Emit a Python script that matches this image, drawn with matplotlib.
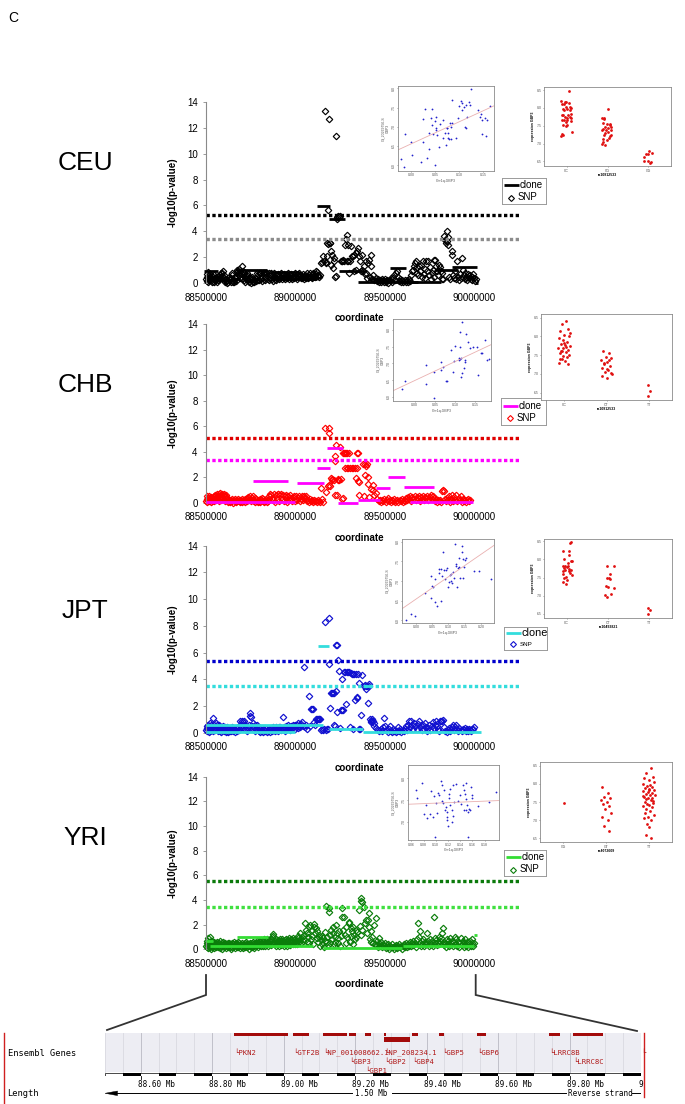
import matplotlib
matplotlib.use("Agg")
import matplotlib.pyplot as plt
from matplotlib.patches import Rectangle, Polygon
import numpy as np

plt.rcParams['font.family'] = ['Liberation Sans', 'DejaVu Sans']

# ------------------------------------------------------------------ data
x_ticks = [88500000, 89000000, 89500000, 90000000]
x_tick_labels = ['88500000', '89000000', '89500000', '90000000']
y_ticks = [0, 2, 4, 6, 8, 10, 12, 14]
populations = ['CEU', 'CHB', 'JPT', 'YRI']

# SNPs: (position kb, -log10 p)
ceu_snps = [
 (88501,.3),(88503,.7),(88505,.15),(88507,.5),(88509,.85),(88511,.35),(88513,.05),(88515,.6),(88518,.25),(88520,.45),
 (88523,.7),(88525,.2),(88528,.4),(88531,.05),(88534,.55),(88537,.3),(88540,.15),(88543,.6),(88546,.1),(88549,.35),
 (88552,.25),(88556,.5),(88559,.1),(88562,.3),(88566,.55),(88569,.2),(88573,.4),(88576,.65),(88579,.3),(88583,.75),
 (88586,.45),(88589,.8),(88592,.55),(88596,.9),(88599,.6),(88602,.35),(88606,.2),(88609,.05),(88612,.15),(88616,0),
 (88619,.2),(88623,.1),(88626,.3),(88630,.5),(88634,.2),(88637,.4),(88641,.1),(88645,.6),(88648,.8),(88652,.05),
 (88655,.25),(88659,.1),(88662,.4),(88666,.15),(88669,.55),(88672,.85),(88675,1.0),(88678,.7),(88681,.9),(88684,1.1),
 (88687,.6),(88690,.4),(88693,.8),(88696,.5),(88699,.3),(88702,1.3),(88705,.9),(88708,.6),(88711,.2),(88714,.75),
 (88717,.45),(88720,.1),(88723,.55),(88726,.3),(88729,.8),(88732,.6),(88735,.2),(88738,.4),(88741,.1),(88744,.3),
 (88747,.5),(88750,0),(88753,.2),(88756,.45),(88759,.3),(88762,.1),(88766,.25),(88770,.05),(88774,.35),(88778,.15),
 (88782,.3),(88786,.8),(88790,.25),(88794,.8),(88798,.2),(88802,.8),(88806,.3),(88810,.8),(88814,.15),(88818,.8),
 (88822,.3),(88826,.8),(88830,.25),(88834,.8),(88838,.5),(88842,.8),(88846,.3),(88850,.8),(88854,.2),(88858,.35),
 (88862,.8),(88866,.6),(88870,.3),(88874,.15),(88878,.5),(88882,.8),(88886,.3),(88890,.6),(88894,.2),(88898,.4),
 (88902,.7),(88906,.3),(88910,.55),(88914,.35),(88918,.8),(88922,.5),(88926,.3),(88930,.6),(88934,.35),(88938,.7),
 (88942,.3),(88946,.5),(88950,.6),(88954,.4),(88958,.8),(88962,.3),(88966,.5),(88970,.65),(88974,.4),(88978,.7),
 (88982,.3),(88986,.5),(88990,.6),(88994,.35),(88998,.8),(89002,.45),(89006,.6),(89010,.3),(89014,.7),(89018,.5),
 (89022,.8),(89026,.6),(89030,.35),(89034,.55),(89038,.4),(89042,.7),(89046,.3),(89050,.5),(89054,.65),(89058,.4),
 (89062,.8),(89066,.5),(89070,.35),(89074,.6),(89078,.45),(89082,.75),(89086,.5),(89090,.6),(89094,.4),(89098,.8),
 (89102,.55),(89106,.65),(89110,.5),(89114,.95),(89117,.7),(89120,.85),(89124,.55),(89127,.6),(89130,.5),
 (89138,.6),(89142,1.55),(89148,1.65),(89155,2.06),(89160,1.7),(89166,13.27),(89169,1.65),(89173,1.55),(89176,2.06),
 (89179,3.1),(89182,3.05),(89184,5.67),(89188,12.68),(89191,3.1),(89195,3.1),(89198,1.4),(89201,2.45),(89205,2.2),
 (89208,1.15),(89213,1.67),(89218,1.9),(89222,.5),(89226,11.39),(89229,.55),(89231,4.95),(89235,5.1),(89239,5.15),
 (89244,5.1),(89249,5.15),(89254,1.67),(89258,1.7),(89263,1.67),(89268,1.75),(89273,1.67),(89278,2.96),(89282,3.4),
 (89286,3.74),(89289,1.7),(89292,2.96),(89296,1.67),(89301,.77),(89306,1.7),(89311,2.9),(89316,2.1),(89321,2.06),
 (89326,.9),(89330,2.14),(89336,2.3),(89341,1.0),(89346,2.5),(89350,2.7),(89355,2.06),(89360,1.67),(89365,.9),
 (89370,2.2),(89374,1.0),(89378,.9),(89383,1.3),(89388,.7),(89392,1.67),(89397,.77),(89402,.4),(89406,1.55),
 (89411,1.8),(89415,.5),(89420,2.2),(89425,1.29),(89430,.3),(89436,.6),(89442,.2),
 (89448,.4),(89454,.15),(89460,.3),(89466,.05),(89472,.25),(89478,.1),(89484,.3),(89490,.2),(89496,.05),(89502,.3),
 (89508,.1),(89514,.25),(89520,0),(89526,.2),(89532,.4),(89538,.1),(89544,.35),(89550,.6),(89556,.2),(89562,.75),
 (89568,.9),(89574,.45),(89580,.15),(89586,.3),(89592,.05),(89598,.2),(89604,.1),(89610,.25),(89616,.05),(89622,.2),
 (89628,.1),(89634,.3),(89640,.15),(89646,.6),(89652,.9),(89657,1.03),(89662,1.29),(89667,1.55),(89672,1.67),(89677,.8),
 (89682,1.2),(89687,.6),(89692,1.3),(89697,.9),(89702,1.4),(89707,.5),(89712,1.67),(89717,.7),(89722,1.1),(89727,.4),
 (89732,1.67),(89737,.9),(89742,1.67),(89747,.6),(89752,1.2),(89757,.3),(89762,.8),(89767,1.0),(89772,.5),(89777,1.75),
 (89782,1.75),(89787,1.3),(89792,.9),(89797,.6),(89802,1.4),(89807,1.2),(89812,.9),(89817,.3),(89822,.8),(89826,.3),
 (89829,3.6),(89835,3.35),(89841,3.1),(89845,3.25),(89848,4.0),(89851,3.55),(89855,2.96),(89860,.5),(89866,.3),
 (89873,2.45),(89876,2.2),(89880,.6),(89886,.4),(89892,.9),(89898,.3),(89904,1.67),(89910,.5),(89916,.2),(89922,.7),
 (89928,.4),(89933,1.93),(89937,1.0),(89942,.6),(89946,.3),(89950,.8),(89955,.5),(89960,.2),(89965,.7),(89970,.4),
 (89975,.6),(89980,.3),(89985,.5),(89990,.2),(89995,.7),(90000,.4),(90005,.15),(90010,.3)]

chb_snps = [
 (88501,.15),(88503,.5),(88505,.3),(88507,.05),(88510,.4),(88512,.2),(88515,.55),(88518,.1),(88520,.35),(88523,.2),
 (88526,.45),(88529,.05),(88532,.3),(88535,.15),(88538,.4),(88541,.25),(88544,.5),(88547,.1),(88550,.35),(88553,.6),
 (88556,.2),(88559,.45),(88562,.7),(88565,.3),(88568,.55),(88571,.15),(88574,.65),(88577,.4),(88580,.75),(88583,.5),
 (88586,.25),(88589,.7),(88592,.45),(88595,.6),(88598,.3),(88601,.65),(88604,.1),(88607,.5),(88610,.35),(88613,.6),
 (88616,.2),(88619,.4),(88622,.05),(88625,.3),(88628,.15),(88632,.25),(88636,.05),(88640,.2),(88644,.1),(88648,.3),
 (88652,0),(88656,.2),(88660,.1),(88664,.3),(88668,.05),(88672,.25),(88676,.1),(88680,.3),(88684,.15),(88688,.05),
 (88692,.25),(88696,.1),(88700,.3),(88704,.05),(88708,.2),(88712,.1),(88716,.3),(88720,.05),(88724,.2),(88728,.35),
 (88732,.1),(88736,.45),(88740,.25),(88744,.55),(88748,.3),(88752,.1),(88756,.4),(88760,.2),(88764,.5),(88768,.15),
 (88772,.35),(88776,.05),(88780,.3),(88784,.15),(88788,.05),(88792,.25),(88796,.1),(88800,.3),(88804,.05),(88808,.2),
 (88812,.4),(88816,.1),(88820,.3),(88824,.05),(88828,.2),(88832,.1),(88836,.3),(88840,.05),(88845,.15),(88850,.3),
 (88855,.55),(88860,.7),(88865,.6),(88870,.4),(88875,.2),(88880,.65),(88885,.05),(88890,.6),(88895,.3),(88900,.65),
 (88905,.7),(88910,.15),(88915,.6),(88920,.65),(88925,.3),(88930,.6),(88935,.1),(88940,.55),(88945,.6),(88950,.35),
 (88955,.05),(88960,.55),(88965,.2),(88970,.6),(88975,.4),(88980,.1),(88985,.45),(88990,.55),(88995,.15),(89000,.3),
 (89005,.5),(89010,.2),(89015,.4),(89020,.55),(89025,.1),(89030,.3),(89035,.5),(89040,.2),(89045,.45),(89050,.55),
 (89055,.35),(89060,.5),(89065,.1),(89070,.2),(89075,.05),(89080,.3),(89085,.15),(89090,.1),(89095,.25),(89100,.05),
 (89105,.2),(89110,.1),(89115,.15),(89120,.05),(89125,.2),(89130,.1),(89138,.05),(89145,1.12),(89150,.3),
 (89154,.05),(89164,5.87),(89173,.86),(89182,1.3),(89185,1.35),(89186,5.87),(89188,5.48),(89192,1.3),(89201,1.96),
 (89204,1.75),(89207,1.85),(89213,1.8),(89220,3.66),(89222,3.29),(89223,.6),(89229,4.52),(89232,.6),(89236,1.78),
 (89239,1.83),(89244,1.8),(89251,4.39),(89254,1.83),(89258,.3),(89264,.34),(89267,3.92),(89272,3.92),(89276,3.92),
 (89279,2.69),(89282,3.92),(89286,2.69),(89290,3.92),(89295,2.69),(89300,3.92),(89305,2.69),(89314,2.69),(89324,2.69),
 (89333,2.69),(89338,1.96),(89342,3.92),(89346,2.69),(89350,1.7),(89352,3.92),(89355,.6),(89358,1.6),(89380,3.03),
 (89383,.5),(89387,2.17),(89389,3.03),(89393,2.9),(89398,3.0),(89405,2.04),(89408,1.46),(89412,.47),(89420,1.1),
 (89431,1.38),(89436,.99),(89442,.6),(89450,.73),(89458,.3),(89466,.15),(89474,.21),(89480,.05),
 (89486,.25),(89492,.1),(89498,.3),(89504,.05),(89510,.2),(89516,.35),(89522,.1),(89528,.25),(89534,.05),(89540,.2),
 (89546,.1),(89552,.3),(89558,.05),(89564,.15),(89570,.25),(89576,.05),(89582,.2),(89588,.1),(89594,.3),(89600,.05),
 (89606,.2),(89612,.1),(89618,.35),(89624,.2),(89630,.45),(89636,.3),(89642,.5),(89648,.15),(89654,.45),(89660,.3),
 (89666,.5),(89672,.2),(89678,.45),(89684,.35),(89690,.5),(89696,.1),(89702,.45),(89708,.3),(89714,.5),(89720,.2),
 (89726,.45),(89732,.35),(89738,.5),(89744,.25),(89750,.45),(89756,.6),(89762,.3),(89768,.5),(89774,.4),(89780,.1),
 (89786,.3),(89792,.05),(89798,.2),(89804,.1),(89810,.25),(89816,.05),(89822,.95),(89826,1.0),(89830,.95),(89834,.3),
 (89840,.1),(89846,.4),(89852,.2),(89858,.5),(89864,.05),(89870,.3),(89876,.6),(89882,.15),(89888,.45),(89894,.25),
 (89900,.6),(89906,.1),(89912,.4),(89918,.2),(89924,.5),(89930,.05),(89936,.3),(89942,.15),(89948,.25),(89954,.05),
 (89960,.2),(89966,.3),(89972,.1),(89978,.2)]

jpt_snps = [
 (88501,.2),(88503,.5),(88505,.1),(88508,.35),(88510,.6),(88512,.25),(88515,.05),(88517,.45),(88520,.3),(88522,.7),
 (88525,.15),(88528,.4),(88530,.6),(88533,.2),(88536,.5),(88539,.1),(88541,1.12),(88544,.35),(88547,.6),(88550,.2),
 (88553,.45),(88556,.75),(88559,.3),(88562,.55),(88565,.1),(88568,.4),(88571,.25),(88574,.6),(88577,.15),(88580,.45),
 (88583,.3),(88586,.05),(88589,.35),(88592,.2),(88595,.5),(88598,.1),(88601,.3),(88604,.45),(88607,.2),(88610,.05),
 (88613,.35),(88616,.15),(88619,.4),(88622,.25),(88625,.05),(88628,.3),(88632,.15),(88636,.35),(88640,.1),(88644,.25),
 (88648,.4),(88652,.15),(88656,.3),(88660,.05),(88664,.2),(88668,.35),(88672,.1),(88676,.25),(88680,.45),(88684,.2),
 (88688,.6),(88692,.85),(88696,.4),(88700,.9),(88704,.55),(88708,.82),(88712,.85),(88716,.3),(88720,.6),(88724,.2),
 (88728,.45),(88732,.1),(88736,.35),(88740,.6),(88744,1.25),(88748,1.5),(88752,1.2),(88756,.5),(88760,.25),(88764,.7),
 (88768,.4),(88772,.15),(88776,.55),(88780,.3),(88784,.6),(88788,.2),(88792,.45),(88796,.1),(88800,.3),(88804,.05),
 (88808,.2),(88812,.1),(88816,.3),(88820,.05),(88824,.2),(88828,.35),(88832,.1),(88836,.25),(88840,.05),(88844,.2),
 (88848,.1),(88852,.3),(88856,.05),(88860,.2),(88864,.35),(88868,.15),(88872,.3),(88876,.45),(88880,.2),(88884,.35),
 (88888,.1),(88892,.4),(88896,.25),(88900,.35),(88904,.15),(88908,.4),(88912,.3),(88916,.45),(88920,.2),(88924,.35),
 (88928,1.2),(88932,.3),(88936,.45),(88940,.15),(88944,.35),(88948,.5),(88952,.25),(88956,.4),(88960,.55),(88964,.3),
 (88968,.45),(88972,.2),(88976,.5),(88980,.35),(88984,.6),(88988,.4),(88992,.5),(88996,.3),(89000,.55),(89004,.45),
 (89008,.6),(89012,.35),(89016,.7),(89020,.5),(89024,.6),(89028,.4),(89032,.65),(89036,.8),(89040,.5),
 (89050,4.89),(89055,.4),(89060,.6),(89066,.3),(89074,2.75),(89080,.5),(89087,1.75),(89092,1.75),(89097,1.75),
 (89102,.8),(89107,.6),(89115,1.0),(89120,1.0),(89125,1.0),(89130,1.0),(89134,1.0),(89139,1.0),(89145,.2),(89150,.3),
 (89155,.2),(89160,.25),(89167,8.29),(89172,.2),(89178,.3),(89183,.25),(89186,5.12),(89189,8.56),(89192,1.82),
 (89199,2.99),(89204,2.99),(89208,2.99),(89213,2.99),(89217,.57),(89222,.5),(89225,3.14),(89228,6.56),(89231,1.57),
 (89234,6.56),(89236,5.44),(89245,4.64),(89250,.32),(89254,1.7),(89260,3.99),(89263,1.7),(89268,1.7),(89273,4.57),
 (89279,4.57),(89283,2.12),(89288,4.57),(89293,4.57),(89298,4.57),(89303,.4),(89310,4.5),(89316,4.39),(89320,.25),
 (89324,4.39),(89330,4.39),(89335,2.45),(89340,4.39),(89344,2.69),(89347,2.57),(89350,4.39),(89353,3.69),(89356,.25),
 (89361,.25),(89368,1.32),(89374,4.3),(89385,3.52),(89389,3.55),(89392,3.24),(89395,3.52),(89400,3.5),(89405,2.2),
 (89409,3.52),(89413,3.64),(89415,1.0),(89420,.85),(89424,.8),(89428,1.0),(89433,.9),(89438,.7),(89442,.5),
 (89450,.35),(89460,.2),(89470,.1),
 (89478,.3),(89484,.1),(89490,.45),(89497,1.12),(89503,.5),(89509,.2),(89515,.05),(89521,.3),(89527,.5),(89533,.15),
 (89539,.05),(89545,.3),(89551,.1),(89557,.2),(89563,.05),(89569,.15),(89575,.45),(89581,.1),(89587,.3),(89593,.05),
 (89599,.2),(89605,.1),(89611,.3),(89617,.5),(89623,.2),(89629,.6),(89635,.85),(89641,.4),(89647,.9),(89653,.6),
 (89659,.25),(89665,.75),(89671,.5),(89677,.3),(89683,.65),(89689,.85),(89695,.4),(89701,.6),(89707,.2),(89713,.55),
 (89719,.3),(89725,.75),(89731,.45),(89737,.1),(89743,.35),(89749,.6),(89755,.2),(89761,.5),(89767,.8),(89773,.35),
 (89779,.6),(89785,.9),(89791,.5),(89797,.3),(89803,.15),(89809,.9),(89815,.9),(89821,.9),(89827,.95),(89833,.4),
 (89839,.15),(89845,.05),(89851,.2),(89857,.35),(89863,.1),(89869,.25),(89875,.4),(89881,.55),(89887,.2),(89893,.45),
 (89899,.6),(89905,.3),(89911,.15),(89917,.35),(89923,.2),(89929,.1),(89935,.3),(89941,.2),(89947,.35),(89953,.15),
 (89959,.25),(89965,.1),(89971,.3),(89977,.2),(89983,.15),(89989,.25),(89995,.3),(90000,.4)]

yri_snps = [
 (88501,.3),(88503,.7),(88505,.15),(88507,.5),(88509,.95),(88511,.4),(88513,.1),(88515,.6),(88517,.25),(88520,1.03),
 (88522,.45),(88524,.2),(88526,.65),(88529,.05),(88531,.4),(88534,.7),(88536,.2),(88539,.5),(88541,.3),(88544,.6),
 (88547,.1),(88549,.45),(88552,.25),(88555,.55),(88558,.15),(88561,.4),(88564,.6),(88567,.2),(88570,.5),(88573,.3),
 (88576,.65),(88579,.1),(88582,.45),(88585,.25),(88588,.55),(88591,.05),(88594,.35),(88597,.6),(88600,.2),(88603,.45),
 (88606,.3),(88609,.55),(88612,.1),(88615,.4),(88618,.25),(88621,.5),(88624,.15),(88627,.35),(88630,.55),(88633,.2),
 (88636,.45),(88639,.05),(88642,.3),(88645,.5),(88648,.2),(88651,.4),(88654,.6),(88657,.25),(88660,.1),(88663,.45),
 (88666,.3),(88669,.55),(88672,.15),(88675,.4),(88678,.6),(88681,.2),(88684,.35),(88687,.5),(88690,.1),(88693,.3),
 (88696,.45),(88699,.2),(88702,.55),(88705,.35),(88708,.1),(88711,.4),(88714,.25),(88717,.5),(88720,.15),(88723,.35),
 (88726,.6),(88729,.2),(88732,.45),(88735,.3),(88738,.05),(88741,.4),(88744,.25),(88747,.55),(88750,.15),(88753,.35),
 (88756,.5),(88759,.2),(88762,.4),(88765,.6),(88768,.3),(88771,.1),(88774,.45),(88777,.25),(88780,.55),(88783,.35),
 (88786,.65),(88789,.2),(88792,.5),(88795,.35),(88798,.7),(88801,.4),(88804,.6),(88807,.25),(88810,.75),(88813,.5),
 (88816,.3),(88819,.65),(88822,.45),(88825,.8),(88828,.55),(88831,.3),(88834,.7),(88837,.5),(88840,.85),(88843,.4),
 (88846,.6),(88849,.3),(88852,.75),(88855,.5),(88858,.65),(88861,.35),(88864,.8),(88867,.55),(88870,1.0),(88873,1.25),
 (88876,1.1),(88879,.6),(88882,.4),(88885,.7),(88888,.5),(88891,.8),(88894,.3),(88897,.6),(88900,.75),(88903,.45),
 (88906,.65),(88909,.3),(88912,.8),(88915,.5),(88918,.7),(88921,.35),(88924,.6),(88927,.8),(88930,.45),(88933,.65),
 (88936,.3),(88939,.75),(88942,.5),(88945,.85),(88948,.4),(88951,.6),(88954,.3),(88957,.75),(88960,.55),(88963,.9),
 (88966,.45),(88969,.65),(88972,.35),(88975,.8),(88978,.5),(88981,.7),(88984,.4),(88987,.9),(88990,.6),(88993,.75),
 (88996,.45),(88999,.85),(89002,.55),(89005,.7),
 (89008,.4),(89012,.9),(89016,1.1),(89020,.6),(89024,.8),(89028,1.3),(89032,.5),(89036,1.0),(89040,.7),(89046,1.2),
 (89050,.8),(89054,2.1),(89058,1.57),(89062,.6),(89066,1.3),(89070,1.0),(89074,1.84),(89078,.5),(89082,1.97),(89086,.8),
 (89090,1.6),(89094,1.1),(89098,.4),(89102,1.84),(89106,2.05),(89110,1.3),(89114,1.7),(89118,.9),(89122,1.5),(89126,.6),
 (89130,1.2),(89134,1.0),(89138,.3),(89142,.75),(89146,1.1),(89150,.45),(89154,.9),(89158,.2),(89163,.7),(89167,1.4),
 (89171,3.51),(89175,.6),(89179,1.0),(89183,.35),(89186,3.32),(89190,3.05),(89193,1.2),(89196,.5),(89200,1.6),
 (89204,.8),(89208,1.3),(89212,1.84),(89216,.4),(89220,1.0),(89224,.6),(89228,1.97),(89232,1.3),(89236,.5),(89240,.9),
 (89244,1.5),(89248,.3),(89252,1.1),(89258,2.65),(89260,3.38),(89264,1.6),(89273,2.65),(89276,1.2),(89280,1.84),
 (89284,.5),(89288,1.0),(89297,2.16),(89301,2.24),(89304,.6),(89308,1.7),(89312,1.1),(89316,1.5),(89320,.4),
 (89324,1.84),(89328,1.2),(89332,.8),(89336,1.6),(89340,1.0),(89345,1.4),(89357,3.19),(89360,1.9),(89364,1.2),
 (89368,4.2),(89369,3.95),(89370,3.8),(89374,1.6),(89385,3.46),(89390,2.16),(89394,2.38),(89398,1.3),(89403,2.38),
 (89409,2.92),(89413,1.84),(89417,.8),(89421,1.5),(89425,.6),(89430,1.0),(89435,.5),(89440,1.97),(89445,.4),
 (89449,2.51),(89452,.35),(89455,.7),(89460,.2),(89465,.5),(89470,.9),(89475,.3),(89480,.6),(89485,.15),(89490,.45),
 (89495,.25),(89500,.55),(89505,.1),(89510,.35),(89515,.2),(89520,.45),(89525,.05),(89530,.3),(89535,.15),(89540,.4),
 (89545,.2),(89550,.05),(89555,.3),(89560,.15),(89565,.35),(89570,.1),(89575,.25),(89580,.4),(89585,.15),(89590,.3),
 (89595,.05),(89600,.25),(89605,.4),(89610,.15),(89615,.3),(89620,.5),(89625,.2),(89630,.45),(89635,.3),(89640,.6),
 (89645,.25),(89650,.5),(89655,.35),(89660,.7),(89665,.4),(89670,.55),(89675,.2),(89680,.8),(89687,2.1),(89694,1.5),
 (89690,1.0),(89698,.5),(89702,.3),(89705,.65),(89710,.4),(89715,.8),(89720,.25),(89725,.6),(89730,.4),(89737,1.35),
 (89740,.7),(89745,.3),(89750,.55),(89755,.85),(89760,.4),(89765,.65),(89770,.3),(89774,2.65),(89778,.9),(89782,.5),
 (89786,.75),(89790,.35),(89795,.6),(89800,1.0),(89805,.4),(89810,.7),(89815,.9),(89820,1.3),(89824,1.7),(89828,.6),
 (89832,.35),(89836,.55),(89840,.2),(89845,.8),(89850,.45),(89855,.65),(89860,.3),(89865,.9),(89870,.5),(89875,.7),
 (89880,.25),(89885,.6),(89890,1.0),(89895,.4),(89900,.8),(89905,.3),(89910,.6),(89915,.15),(89920,.5),(89925,.9),
 (89930,.35),(89935,.7),(89940,.2),(89945,.55),(89950,.8),(89955,.3),(89960,.6),(89965,.15),(89970,.45),(89975,.7),
 (89980,.25),(89985,.5),(89990,.8),(89995,.3),(90000,.55)]

# clones: (start kb, end kb, -log10 p)
ceu_clones = [(88490,88569,.95),(88504,88673,.27),(88669,88841,.98),(88856,89019,.82),(88860,89123,.33),
              (89119,89194,5.92),(89188,89276,4.97),(89244,89385,.92),(89348,89685,.05),(89404,89535,.3),
              (89531,89619,1.13),(89619,89816,.1),(89779,89910,1.03),(89873,90013,1.2),(90004,90023,0.0)]
chb_clones = [(88500,89000,.05),(88765,88957,1.7),(89009,89158,1.57),(89120,89192,2.74),(89179,89267,4.28),
              (89239,89352,0.0),(89352,89474,.25),(89451,89530,1.12),(89517,89615,1.98),(89605,89774,1.2),
              (89643,89991,.05)]
jpt_clones = [(88500,89000,.05),(88500,89152,.55),(89124,89189,6.46),(89190,89376,.25),(89376,89420,3.5),
              (89376,90040,.08)]
yri_clones = [(88500,88541,.7),(88674,88847,1.03),(88520,89100,.25),(89153,89598,.14),(89600,90000,.27),
              (90000,90015,1.2)]

# significance thresholds (upper, lower)
ceu_thresholds = [5.28, 3.38]
chb_thresholds = [5.09, 3.34]
jpt_thresholds = [5.39, 3.49]
yri_thresholds = [5.51, 3.40]

# inset scatter: (Chr1q-GBP3, GI_20269756-S GBP3)
ceu_scatter = [(-.021,6.16),(-.012,6.82),(-.014,5.96),(-.001,6.61),(.001,6.27),(.021,6.08),(.024,6.60),(.025,7.19),
 (.029,7.47),(.034,6.19),(.037,6.43),(.038,6.83),(.042,7.22),(.044,7.45),(.044,7.04),(.045,6.80),(.049,6.0),(.049,7.15),
 (.051,7.26),(.051,6.96),(.052,6.92),(.053,6.78),(.058,6.47),(.061,7.06),(.066,6.70),(.066,7.18),(.071,6.83),(.073,6.52),
 (.074,6.96),(.075,6.96),(.076,6.70),(.077,6.85),(.079,6.67),(.081,7.10),(.083,7.0),(.083,6.68),(.085,7.70),(.084,7.09),
 (.094,6.71),(.097,7.22),(.100,7.54),(.104,7.66),(.105,7.61),(.106,7.44),(.110,7.52),(.112,7.0),(.114,6.97),(.114,7.56),
 (.115,7.26),(.121,7.65),(.123,7.56),(.125,7.97),(.138,7.43),(.142,7.26),(.145,7.32),(.147,6.80),(.148,7.17),(.153,7.22),
 (.155,6.75),(.158,7.18),(.163,7.54)]
chb_scatter = [(-.032,6.23),(-.024,6.47),(.029,6.95),(.029,6.40),(.047,6.75),(.048,5.97),(.065,6.80),(.065,7.05),
 (.070,6.90),(.077,6.47),(.079,6.49),(.090,7.40),(.096,6.75),(.098,7.07),(.100,7.53),(.109,7.17),(.110,7.10),(.111,7.12),
 (.113,7.50),(.114,7.15),(.115,6.60),(.116,8.22),(.118,6.72),(.122,6.86),(.124,7.05),(.125,7.09),(.128,7.87),(.132,7.65),
 (.136,7.45),(.145,7.49),(.154,7.50),(.156,6.64),(.165,7.30),(.166,7.32),(.175,7.70),(.179,7.10),(.183,7.12),(.112,7.92)]
jpt_scatter = [(-.030,6.0),(-.015,6.17),(-.004,6.11),(.028,6.70),(.045,6.56),(.047,7.13),(.050,6.88),(.052,6.85),
 (.059,7.05),(.060,6.46),(.066,6.36),(.071,7.20),(.072,7.30),(.076,7.30),(.078,6.50),(.080,7.14),(.083,7.74),(.085,7.28),
 (.088,7.06),(.092,7.29),(.095,7.32),(.097,6.85),(.102,6.98),(.105,7.15),(.108,7.01),(.109,7.18),(.112,6.96),(.113,7.23),
 (.117,7.08),(.120,7.94),(.122,7.38),(.124,7.43),(.126,6.85),(.128,7.32),(.131,7.58),(.133,7.35),(.135,7.07),(.141,7.90),
 (.142,7.73),(.144,7.56),(.146,7.08),(.148,7.35),(.152,7.53),(.154,7.58),(.177,7.26),(.195,7.26),(.231,7.05)]
yri_scatter = [(.067,7.74),(.077,7.90),(.084,7.39),(.086,7.09),(.091,7.19),(.093,7.72),(.095,7.12),(.097,7.59),
 (.099,6.65),(.100,7.43),(.102,7.21),(.104,7.66),(.106,7.62),(.108,7.95),(.110,7.86),(.110,7.47),(.112,7.44),(.114,7.73),
 (.115,7.28),(.117,7.35),(.118,7.12),(.118,7.04),(.119,7.23),(.120,6.90),(.121,7.55),(.122,7.65),(.123,7.38),(.124,7.75),
 (.126,7.0),(.127,7.27),(.128,7.14),(.128,7.85),(.130,7.46),(.133,7.87),(.137,7.48),(.139,7.61),(.141,7.41),(.145,7.86),
 (.146,7.28),(.147,7.73),(.148,7.65),(.149,7.90),(.150,7.52),(.150,7.27),(.151,7.38),(.152,7.23),(.153,6.65),(.154,7.30),
 (.156,7.27),(.157,7.81),(.159,7.62),(.160,7.54),(.170,7.36),(.187,7.46),(.199,7.69),(.069,7.54),(.080,7.19)]

# inset strip plots: genotype categories and (jittered position, expression GBP3)
ceu_genotypes = ['CC', 'CG', 'GG']
ceu_strip = [(1.06,8.48),(.87,8.19),(.96,8.17),(.99,8.17),(.90,8.12),(1.05,8.14),(.94,8.10),(1.09,8.03),(.98,8.02),
 (1.12,8.0),(.91,7.98),(1.02,7.96),(1.08,7.95),(.95,7.94),(1.11,7.83),(.89,7.81),(.92,7.81),(1.03,7.80),(.97,7.76),
 (1.08,7.76),(1.0,7.73),(1.11,7.73),(.89,7.67),(.94,7.65),(1.02,7.67),(1.10,7.63),(.98,7.61),(.91,7.51),(1.02,7.51),
 (.98,7.50),(1.13,7.33),(.89,7.26),(.87,7.20),(.91,7.23),
 (2.02,7.98),(1.87,7.72),(1.91,7.72),(1.92,7.70),(1.89,7.58),(1.98,7.56),(2.05,7.56),(2.06,7.51),(1.94,7.47),
 (2.02,7.45),(2.09,7.47),(1.90,7.42),(1.97,7.39),(2.08,7.37),(1.86,7.37),(2.0,7.33),(1.95,7.31),(2.09,7.25),(2.06,7.21),
 (1.92,7.23),(2.04,7.17),(1.89,7.14),(1.98,7.09),(1.86,7.0),(1.95,6.95),(1.90,7.05),
 (3.01,6.80),(2.93,6.70),(2.98,6.70),(3.08,6.73),(2.88,6.62),(2.99,6.50),(2.90,6.50),(3.07,6.48),(3.04,6.46)]
chb_genotypes = ['CC', 'CT', 'TT']
chb_strip = [(1.05,8.40),(.95,8.33),(1.10,8.20),(.90,8.15),(1.00,8.05),(1.12,8.00),(.88,7.95),(.97,7.90),(1.07,7.86),
 (.92,7.80),(1.02,7.78),(1.14,7.75),(.86,7.70),(.98,7.68),(1.08,7.65),(.93,7.60),(1.03,7.58),(.89,7.55),(1.11,7.50),
 (.96,7.48),(1.06,7.45),(.91,7.40),(1.01,7.35),(.87,7.30),(1.09,7.26),(.95,7.62),(1.04,7.72),(.99,7.82),(1.13,8.08),
 (.94,7.40),
 (1.92,7.60),(2.06,7.56),(1.98,7.46),(2.10,7.42),(1.88,7.38),(2.02,7.31),(1.94,7.26),(2.08,7.21),(1.90,7.16),(2.04,7.10),
 (1.96,7.06),(2.12,7.00),(1.89,6.95),(2.00,6.90),(2.07,7.36),(1.93,7.28),(2.01,7.13),(2.11,7.03),
 (2.98,6.70),(3.03,6.55),(2.99,6.40)]
jpt_genotypes = ['CC', 'CT', 'TT']
jpt_strip = [(1.08,8.45),(1.11,8.47),(.90,8.24),(1.05,8.22),(.94,8.01),(1.06,8.11),(1.10,7.95),(1.14,7.95),(.91,7.83),
 (.96,7.83),(1.0,7.79),(1.02,7.83),(1.06,7.74),(.93,7.77),(.97,7.72),(1.10,7.72),(1.13,7.58),(.91,7.59),(.98,7.52),
 (.94,7.48),(1.0,7.44),(.92,7.37),(.98,7.33),(1.05,7.67),(.90,7.67),(1.08,7.63),(1.02,7.89),
 (1.98,7.83),(2.15,7.83),(2.06,7.61),(1.97,7.48),(2.06,7.46),(1.94,7.26),(2.0,7.24),(2.15,7.22),(1.93,7.01),(1.97,6.97),
 (2.07,7.06),(2.02,7.48),
 (2.97,6.67),(3.02,6.62),(2.98,6.49)]
yri_genotypes = ['GG', 'GT', 'TT']
yri_strip = [(1.02,7.47),
 (1.90,7.90),(2.05,7.75),(1.95,7.65),(2.10,7.60),(1.88,7.55),(2.02,7.50),(1.93,7.45),(2.08,7.40),(1.97,7.30),(2.12,7.20),
 (1.91,7.10),(2.04,7.00),(1.96,6.85),(2.06,6.70),
 (3.05,8.44),(2.95,8.30),(3.10,8.20),(2.90,8.15),(3.00,8.10),(3.13,8.05),(2.88,8.00),(3.04,7.98),(2.96,7.95),(3.08,7.90),
 (2.92,7.88),(3.01,7.85),(3.12,7.82),(2.87,7.80),(2.98,7.78),(3.07,7.75),(2.93,7.72),(3.03,7.70),(3.14,7.68),(2.89,7.65),
 (2.99,7.62),(3.09,7.60),(2.94,7.58),(3.05,7.55),(2.91,7.50),(3.11,7.48),(2.97,7.45),(3.02,7.42),(2.86,7.40),(3.08,7.35),
 (2.95,7.30),(3.04,7.25),(2.92,7.20),(3.12,7.15),(2.99,7.10),(2.90,7.05),(3.06,7.00),(2.96,6.90),(3.02,6.80),(2.93,6.60),
 (3.05,6.50),(3.10,7.52),(2.88,7.66),(3.00,7.84)]

# Ensembl gene track (Mb)
gene_bars = [(88.861,89.012,0),(89.026,89.071,0),(89.110,89.177,0),(89.183,89.202,0),(89.228,89.244,0),
             (89.281,89.286,0),(89.281,89.354,1),(89.359,89.376,0),(89.435,89.449,0),(89.541,89.566,0),
             (89.743,89.773,0),(89.810,89.894,0),(90.000,90.004,0)]
gene_labels = [('PKN2',88.861,0),('GTF2B',89.026,0),('NP_001008662.1',89.110,0),('NP_208234.1',89.281,0),
               ('GBP5',89.443,0),('GBP6',89.541,0),('LRRC8B',89.743,0),('',89.999,0),
               ('GBP3',89.183,1),('GBP2',89.281,1),('GBP4',89.359,1),('LRRC8C',89.810,1),('GBP1',89.228,2)]
scale_ticks_mb = [88.6, 88.8, 89.0, 89.2, 89.4, 89.6, 89.8]
scale_tick_labels = ['88.60 Mb', '88.80 Mb', '89.00 Mb', '89.20 Mb', '89.40 Mb', '89.60 Mb', '89.80 Mb']

# ------------------------------------------------------------------ layout helpers
W, H = 685, 1104
fig = plt.figure(figsize=(W / 100, H / 100), dpi=100)


def px_axes(x0, y0, x1, y1):
    ax = fig.add_axes([x0 / W, 1 - y1 / H, (x1 - x0) / W, (y1 - y0) / H])
    return ax


ov = px_axes(0, 0, W, H)
ov.set_xlim(0, W)
ov.set_ylim(H, 0)
ov.axis('off')

panels = [
    dict(name='CEU', snps=ceu_snps, clones=ceu_clones, thr=ceu_thresholds, thr_colors=['#000000', '#8c8c8c'],
         snp_c='#000000', clone_c='#000000', top=102, bot=283, ly=163,
         leg=(502, 178, 546, 204), leg_fs=(7, 7),
         sc_box=(398, 86, 494, 171), sc=ceu_scatter, sc_xlim=(-.027, .172), sc_ylim=(5.85, 8.06),
         sc_xt=[0, .05, .10, .15], sc_yt=[6.0, 6.5, 7.0, 7.5, 8.0],
         st_box=(544, 87, 671, 166), st=ceu_strip, st_cat=ceu_genotypes, st_ylim=(6.37, 8.59), st_lab='rs10912533'),
    dict(name='CHB', snps=chb_snps, clones=chb_clones, thr=chb_thresholds, thr_colors=['#e00000', '#ff00ff'],
         snp_c='#ff0000', clone_c='#ff00ff', top=324, bot=502.7, ly=385,
         leg=(501, 398, 546, 425), leg_fs=(7, 7),
         sc_box=(393, 319, 491, 401), sc=chb_scatter, sc_xlim=(-.054, .189), sc_ylim=(5.88, 8.32),
         sc_xt=[0, .05, .10, .15], sc_yt=[6.0, 6.5, 7.0, 7.5, 8.0],
         st_box=(541, 314, 672, 400), st=chb_strip, st_cat=chb_genotypes, st_ylim=(6.3, 8.6), st_lab='rs10912533'),
    dict(name='JPT', snps=jpt_snps, clones=jpt_clones, thr=jpt_thresholds, thr_colors=['#0000cc', '#33dddd'],
         snp_c='#1010d0', clone_c='#33dddd', top=545.7, bot=732.7, ly=611,
         leg=(504, 627, 547, 650), leg_fs=(7.8, 4.5),
         sc_box=(402, 539, 494, 623), sc=jpt_scatter, sc_xlim=(-.043, .240), sc_ylim=(5.93, 8.07),
         sc_xt=[0, .05, .10, .15, .20], sc_yt=[6.0, 6.5, 7.0, 7.5, 8.0],
         st_box=(544, 539, 672, 618), st=jpt_strip, st_cat=jpt_genotypes, st_ylim=(6.39, 8.56), st_lab='rs10493821'),
    dict(name='YRI', snps=yri_snps, clones=yri_clones, thr=yri_thresholds, thr_colors=['#0b7a0b', '#40e040'],
         snp_c='#0a7d0a', clone_c='#33dd33', top=776.7, bot=949.3, ly=838,
         leg=(504, 850, 546, 876), leg_fs=(7, 7),
         sc_box=(408, 765, 499, 840), sc=yri_scatter, sc_xlim=(.0545, .2036), sc_ylim=(6.58, 8.31),
         sc_xt=[.06, .08, .10, .12, .14, .16, .18], sc_yt=[7.0, 7.5, 8.0],
         st_box=(540, 762, 672, 842), st=yri_strip, st_cat=yri_genotypes, st_ylim=(6.4, 8.6), st_lab='rs4072609'),
]

AX_L, AX_R = 206, 519
XMIN, XMAX = 88500000, 90250000

for p in panels:
    ax = px_axes(AX_L, p['top'], AX_R, p['bot'])
    ax.set_facecolor('none')
    ax.set_xlim(XMIN, XMAX)
    ax.set_ylim(0, 14)
    for s in ['top', 'right', 'bottom']:
        ax.spines[s].set_visible(False)
    ax.spines['left'].set_color('#8a8a8a')
    ax.spines['left'].set_linewidth(0.8)
    ax.set_xticks(x_ticks)
    ax.set_xticklabels(x_tick_labels)
    ax.set_yticks(y_ticks)
    ax.tick_params(axis='x', length=0, pad=7, labelsize=7)
    ax.tick_params(axis='y', length=2.5, width=0.6, color='#8a8a8a', pad=3.5, labelsize=7)
    ax.set_xlabel('coordinate', fontsize=7, fontweight='bold')
    ax.set_ylabel('-log10(p-value)', fontsize=7, fontweight='bold')
    hpx = p['bot'] - p['top']
    ax.xaxis.set_label_coords(0.49, -30 / hpx)
    ax.yaxis.set_label_coords(-28 / (AX_R - AX_L), 0.5)

    # thresholds
    for v, c in zip(p['thr'], p['thr_colors']):
        ax.axhline(v, color=c, lw=2.4, ls=(0, (1, 0.75)), dash_capstyle='butt', zorder=2.5)

    # SNPs
    sx = np.array([s[0] for s in p['snps']]) * 1000
    sy = np.array([s[1] for s in p['snps']])
    ax.plot(sx, sy, ls='none', marker='D', ms=3.3, mfc='none', mec=p['snp_c'], mew=0.85,
            clip_on=False, zorder=2)

    # clones
    for c0, c1, v in p['clones']:
        ax.hlines(v, c0 * 1000, c1 * 1000, colors=p['clone_c'], lw=2.0, zorder=3, clip_on=False)

    # panel label
    ov.text(85, p['ly'], p['name'], fontsize=19, ha='center', va='center')

    # legend box
    lx0, ly0, lx1, ly1 = p['leg']
    lax = px_axes(lx0, ly0, lx1, ly1)
    lax.set_xlim(lx0, lx1)
    lax.set_ylim(ly1, ly0)
    lax.set_xticks([])
    lax.set_yticks([])
    for s in lax.spines.values():
        s.set_color('#9a9a9a')
        s.set_linewidth(0.7)
    ymid1 = ly0 + (ly1 - ly0) * 0.28
    ymid2 = ly0 + (ly1 - ly0) * 0.75
    lax.plot([lx0 + 2.5, lx0 + 16.5], [ymid1, ymid1], color=p['clone_c'], lw=2.0, solid_capstyle='butt')
    lax.text(lx0 + 17.5, ymid1, 'clone', fontsize=p['leg_fs'][0], va='center', ha='left')
    lax.plot([lx0 + 9], [ymid2], ls='none', marker='D', ms=3.0, mfc='none', mec=p['snp_c'], mew=0.8)
    lax.text(lx0 + 16, ymid2, 'SNP', fontsize=p['leg_fs'][1], va='center', ha='left')

    # scatter inset
    sax = px_axes(*p['sc_box'])
    sxv = np.array([q[0] for q in p['sc']])
    syv = np.array([q[1] for q in p['sc']])
    sax.plot(sxv, syv, ls='none', marker='o', ms=1.3, color='#2222cc', mew=0)
    coef = np.polyfit(sxv, syv, 1)
    xl = np.array(p['sc_xlim'])
    sax.plot(xl, np.polyval(coef, xl), color='#e9b0b0', lw=0.6)
    sax.set_xlim(*p['sc_xlim'])
    sax.set_ylim(*p['sc_ylim'])
    sax.set_xticks(p['sc_xt'])
    sax.set_xticklabels(['%.2f' % t for t in p['sc_xt']])
    sax.set_yticks(p['sc_yt'])
    sax.set_yticklabels(['%.1f' % t for t in p['sc_yt']], rotation=90, va='center')
    sax.tick_params(length=1, width=0.4, labelsize=2.5, pad=0.8, colors='#555555')
    sax.set_xlabel('Chr1q-GBP3', fontsize=2.5, labelpad=1, color='#555555')
    sax.set_ylabel('GI_20269756-S\nGBP3', fontsize=2.5, labelpad=1, color='#555555')
    for s in sax.spines.values():
        s.set_color('#8a8a8a')
        s.set_linewidth(0.6)

    # strip inset
    tax = px_axes(*p['st_box'])
    tx = [q[0] for q in p['st']]
    ty = [q[1] for q in p['st']]
    tax.plot(tx, ty, ls='none', marker='o', ms=2.0, color='#e01010', mew=0)
    tax.set_xlim(0.45, 3.55)
    tax.set_ylim(*p['st_ylim'])
    tax.set_xticks([1, 2, 3])
    tax.set_xticklabels(p['st_cat'])
    yt = [t for t in [6.5, 7.0, 7.5, 8.0, 8.5] if p['st_ylim'][0] <= t <= p['st_ylim'][1]]
    tax.set_yticks(yt)
    tax.set_yticklabels(['%.1f' % t for t in yt])
    tax.tick_params(length=1, width=0.4, labelsize=2.5, pad=0.8, colors='#555555')
    tax.set_xlabel(p['st_lab'], fontsize=2.5, labelpad=0.5, fontweight='bold')
    tax.set_ylabel('expression GBP3', fontsize=2.5, labelpad=1, fontweight='bold')
    for s in tax.spines.values():
        s.set_color('#8a8a8a')
        s.set_linewidth(0.6)

# ------------------------------------------------------------------ figure decorations
ov.text(13, 18, 'C', fontsize=10, ha='center', va='center')

# zoom lines from YRI axis to gene track
ov.plot([206, 206, 107], [975, 995, 1030], color='#333333', lw=1.3, solid_joinstyle='miter')
ov.plot([475.7, 475.7, 637], [975, 995, 1031], color='#333333', lw=1.3, solid_joinstyle='miter')

mono = 'DejaVu Sans Mono'
ov.text(8, 1054, 'Ensembl Genes', fontsize=6.3, family=mono, va='center', ha='left')
ov.text(7, 1094, 'Length', fontsize=6.3, family=mono, va='center', ha='left')
ov.plot([4.5, 4.5], [1033, 1104], color='#d02020', lw=1.0)
ov.plot([644.5, 644.5], [1033, 1097], color='#d02020', lw=1.0)

gax = px_axes(105, 1025, 641, 1104)
gax.set_xlim(88.5, 90.0)
gax.set_ylim(1104, 1025)
gax.axis('off')

gax.add_patch(Rectangle((88.5, 1033), 1.5, 38.5, facecolor='#ededf3', edgecolor='none', zorder=0))
for k in range(31):
    xg = 88.5 + 0.05 * k
    major = (k % 4 == 2)
    gax.plot([xg, xg], [1033, 1071.5], color='#b9b9c2' if major else '#d9d9e1', lw=0.6, zorder=0.5)

bar_rows = {0: (1033.3, 3.0), 1: (1037.3, 4.4)}
for g0, g1, r in gene_bars:
    yb, hb = bar_rows[r]
    gax.add_patch(Rectangle((g0, yb), g1 - g0, hb, facecolor='#a30b0b', edgecolor='none', zorder=2))

label_rows = {0: 1053, 1: 1061.5, 2: 1070.8}
for name, g0, r in gene_labels:
    gax.text(g0, label_rows[r], '\u2514' + name, fontsize=5.2, family=mono, color='#b01818',
             va='center', ha='left', zorder=1, clip_on=False)

# scale bar
gax.add_patch(Rectangle((88.5, 1072.7), 1.5, 3.3, facecolor='white', edgecolor='black', lw=0.5, zorder=3))
for k in range(15):
    gax.add_patch(Rectangle((88.55 + 0.1 * k, 1072.7), 0.05, 3.3, facecolor='black', edgecolor='none', zorder=4))
gax.add_patch(Rectangle((88.5, 1076.3), 1.5, 2.5, facecolor='white', edgecolor='none', zorder=3.5))
for t, lab in zip(scale_ticks_mb, scale_tick_labels):
    gax.plot([t, t], [1076, 1078.5], color='black', lw=0.6, zorder=4)
    gax.text(t - 0.008, 1084.5, lab, fontsize=5.5, family=mono, va='center', ha='left')
gax.text(89.993, 1084.5, '9', fontsize=5.5, family=mono, va='center', ha='left', clip_on=False)

# length row
yL = 1093.3
gax.plot([88.52, 89.191], [yL, yL], color='black', lw=0.7)
gax.plot([89.303, 89.79], [yL, yL], color='black', lw=0.7)
gax.plot([89.975, 90.0], [yL, yL], color='black', lw=0.7)
gax.plot([90.0, 90.0], [yL - 3, yL + 3], color='black', lw=0.7)
gax.add_patch(Polygon([(88.5, yL), (88.535, yL - 2.3), (88.535, yL + 2.3)], closed=True,
                      facecolor='black', edgecolor='black', lw=0.3))
gax.text(89.245, yL, '1.50 Mb', fontsize=5.5, family=mono, va='center', ha='center')
gax.text(89.796, yL, 'Reverse strand', fontsize=5.5, family=mono, va='center', ha='left')

fig.savefig('out.png', dpi=100)
